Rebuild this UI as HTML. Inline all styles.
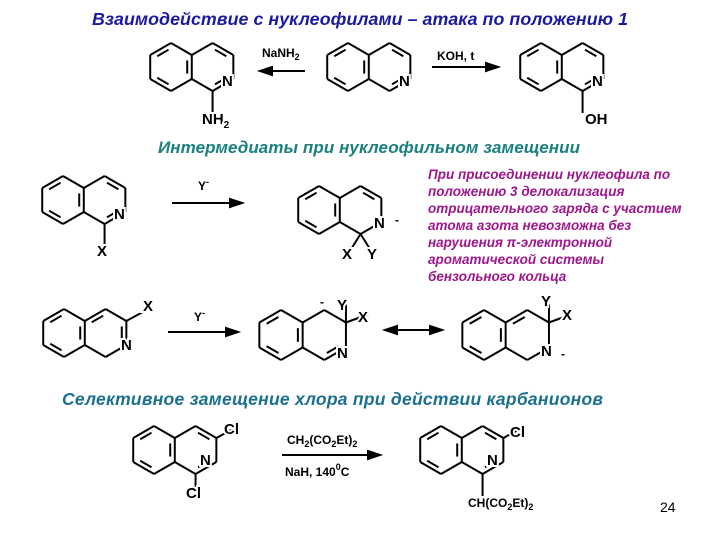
<!DOCTYPE html>
<html><head><meta charset="utf-8"><style>
body{margin:0;background:#fff;width:720px;height:540px;overflow:hidden}
svg{display:block}
text{font-family:"Liberation Sans",sans-serif}
.l{font-size:15px;font-weight:bold;fill:#000;stroke:#fff;stroke-width:4px;paint-order:stroke}
.s{font-size:12px;font-weight:bold;fill:#000}
.h{font-weight:bold;font-style:italic}
.p{font-size:13.5px;font-weight:bold;font-style:italic;fill:#a0168c}
</style></head><body>
<svg id="g" width="720" height="540" viewBox="0 0 720 540">
<g id="bonds" stroke="#000" stroke-width="2" fill="none"></g>
<g id="arrows" stroke="#000" stroke-width="2"></g>
<text class="h" x="92" y="25" font-size="17.8" fill="#1a1aa0" textLength="536">Взаимодействие с нуклеофилами – атака по положению 1</text>
<text class="h" x="158" y="153" font-size="17" fill="#1a8080" textLength="422">Интермедиаты при нуклеофильном замещении</text>
<text class="h" x="62" y="405" font-size="17.5" fill="#1a7090" textLength="541">Селективное замещение хлора при действии карбанионов</text>
<text class="p" x="428" y="179">При присоединении нуклеофила по</text>
<text class="p" x="428" y="196">положению 3 делокализация</text>
<text class="p" x="428" y="213">отрицательного заряда с участием</text>
<text class="p" x="428" y="230">атома азота невозможна без</text>
<text class="p" x="428" y="247">нарушения π-электронной</text>
<text class="p" x="428" y="264">ароматической системы</text>
<text class="p" x="428" y="281">бензольного кольца</text>
<!-- row1 -->
<text class="s" x="262" y="57">NaNH<tspan font-size="9" dy="3">2</tspan></text>
<text class="s" x="437" y="60">KOH, t</text>
<text class="l" x="222" y="86">N</text>
<text class="l" x="202" y="124">NH<tspan font-size="10" dy="4">2</tspan></text>
<text class="l" x="399" y="86">N</text>
<text class="l" x="592" y="86">N</text>
<text class="l" x="585" y="124">OH</text>
<!-- row2 -->
<text class="s" x="198" y="190">Y<tspan font-size="9" dy="-5">-</tspan></text>
<text class="l" x="114" y="219">N</text>
<text class="l" x="97" y="256">X</text>
<text class="l" x="374" y="228">N</text>
<text class="s" x="395" y="224">-</text>
<text class="l" x="342" y="259">X</text>
<text class="l" x="367" y="259">Y</text>
<!-- row3 -->
<text class="s" x="194" y="321">Y<tspan font-size="9" dy="-5">-</tspan></text>
<text class="l" x="143" y="311">X</text>
<text class="l" x="121" y="350">N</text>
<text class="s" x="320" y="306">-</text>
<text class="l" x="337" y="310">Y</text>
<text class="l" x="358" y="322">X</text>
<text class="l" x="337" y="358">N</text>
<text class="l" x="541" y="306">Y</text>
<text class="l" x="562" y="320">X</text>
<text class="l" x="541" y="356">N</text>
<text class="s" x="561" y="358">-</text>
<!-- row4 -->
<text class="l" x="224" y="434">Cl</text>
<text class="l" x="200" y="465">N</text>
<text class="l" x="186" y="498">Cl</text>
<text class="s" x="287" y="444">CH<tspan font-size="9" dy="3">2</tspan><tspan dy="-3">(CO</tspan><tspan font-size="9" dy="3">2</tspan><tspan dy="-3">Et)</tspan><tspan font-size="9" dy="3">2</tspan></text>
<text class="s" x="285" y="476">NaH, 140<tspan font-size="9" dy="-6">0</tspan><tspan dy="6">C</tspan></text>
<text class="l" x="510" y="437">Cl</text>
<text class="l" x="487" y="465">N</text>
<text class="s" x="468" y="507">CH(CO<tspan font-size="9" dy="3">2</tspan><tspan dy="-3">Et)</tspan><tspan font-size="9" dy="3">2</tspan></text>
<text x="660" y="512" font-size="14" fill="#000">24</text>
</svg>
<script>
var B=document.getElementById('bonds'),A=document.getElementById('arrows'),NS='http://www.w3.org/2000/svg';
function ln(p,q,g){var e=document.createElementNS(NS,'line');e.setAttribute('x1',p[0]);e.setAttribute('y1',p[1]);e.setAttribute('x2',q[0]);e.setAttribute('y2',q[1]);(g||B).appendChild(e);}
function hexv(cx,cy,r){var v=[];for(var i=0;i<6;i++){var a=(-90+60*i)*Math.PI/180;v.push([cx+r*Math.cos(a),cy+r*Math.sin(a)]);}return v;}
function inner(c,p,q){var k=0.78,s=0.15;function f(P){return [c[0]+(P[0]-c[0])*k,c[1]+(P[1]-c[1])*k];}var a=f(p),b=f(q);var dx=b[0]-a[0],dy=b[1]-a[1];ln([a[0]+dx*s,a[1]+dy*s],[b[0]-dx*s,b[1]-dy*s]);}
function iso(cx,cy,r,rd,ex){var L=hexv(cx,cy,r),c2=[cx+2*r*0.866,cy],R=hexv(c2[0],c2[1],r);
for(var i=0;i<6;i++)ln(L[i],L[(i+1)%6]);
for(i=0;i<5;i++)if(i!=4)ln(R[i],R[(i+1)%6]);ln(R[5],R[0]);
inner([cx,cy],L[5],L[0]);inner([cx,cy],L[3],L[4]);inner([cx,cy],L[1],L[2]);
rd.forEach(function(e){inner(c2,R[e[0]],R[e[1]]);});
(ex||[]).forEach(function(e){var p=R[e[0]];ln(p,[p[0]+e[1],p[1]+e[2]]);});return R;}
iso(171,67,24,[[0,1],[2,3]],[[3,0,22]]);
iso(348,67,24,[[0,1],[2,3]]);
iso(541,67,24,[[0,1],[2,3]],[[3,0,22]]);
iso(63,200,24,[[0,1],[2,3]],[[3,0,22]]);
iso(319,210,24,[[0,1]],[[3,-10,16],[3,10,16]]);
iso(64,333,24,[[0,5],[1,2]],[[1,22,-12]]);
iso(281,335,25,[[2,3]],[[1,0,-18],[1,22,-8]]);
iso(484,335,25,[[0,5]],[[1,0,-18],[1,22,-8]]);
iso(154,450,24,[[0,1],[2,3]],[[1,22,-12],[3,0,22]]);
iso(441,450,24,[[0,1],[2,3]],[[1,22,-12],[3,0,22]]);
function arr(x1,y,x2,both){ln([x1,y],[x2,y],A);function head(x,d){var p=document.createElementNS(NS,'polygon');p.setAttribute('points',x+','+y+' '+(x-d*12)+','+(y-4)+' '+(x-d*12)+','+(y+4));p.setAttribute('fill','#000');A.appendChild(p);}head(x2,x2>x1?1:-1);if(both)head(x1,x1>x2?1:-1);}
arr(305,71,260);arr(432,67,498);arr(172,203,242);arr(168,332,238);arr(385,330,442,true);arr(282,455,380);
</script>
</body></html>
